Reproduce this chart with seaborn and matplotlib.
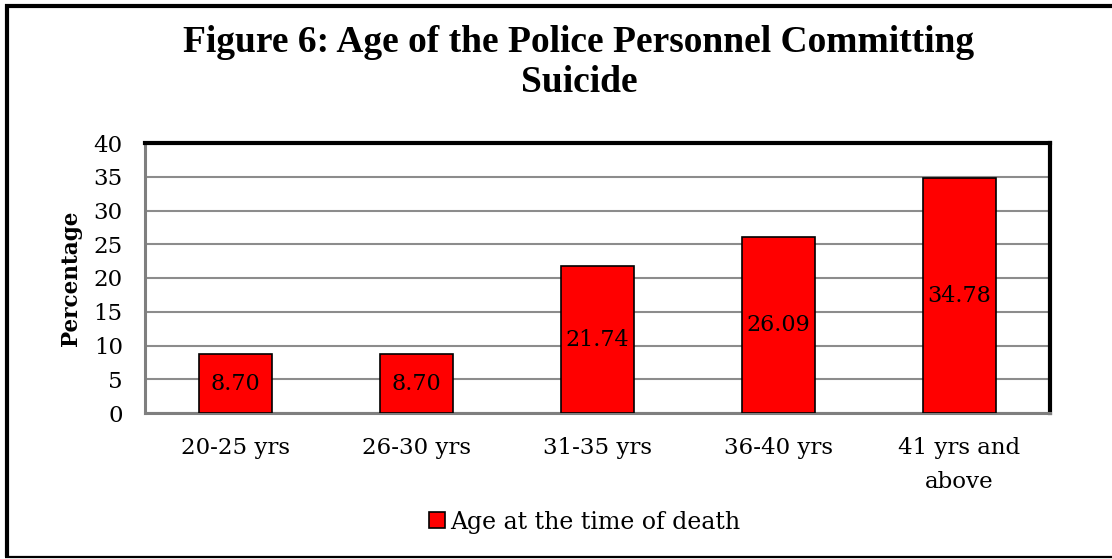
import matplotlib
matplotlib.use("Agg")
import matplotlib.pyplot as plt
from matplotlib.lines import Line2D
import seaborn as sns
import pandas as pd

categories = ["20-25 yrs", "26-30 yrs", "31-35 yrs", "36-40 yrs", "41 yrs and\nabove"]
percentages = [8.70, 8.70, 21.74, 26.09, 34.78]
series_name = "Age at the time of death"
y_ticks = [0, 5, 10, 15, 20, 25, 30, 35, 40]

df = pd.DataFrame({"Age group": categories, "Percentage": percentages, "Series": series_name})

sns.set_theme(style="white")
plt.rcParams["font.family"] = ["DejaVu Serif"]
plt.rcParams["text.color"] = "black"
plt.rcParams["xtick.color"] = "#8c8c8c"
plt.rcParams["ytick.color"] = "#8c8c8c"
plt.rcParams["xtick.labelcolor"] = "black"
plt.rcParams["ytick.labelcolor"] = "black"
plt.rcParams["axes.labelcolor"] = "black"

W, H = 1112, 559
fig = plt.figure(figsize=(W / 100, H / 100), dpi=100)
ax = fig.add_axes([145 / W, 1 - 413 / H, (1050 - 145) / W, (413 - 143) / H])

sns.barplot(data=df, x="Age group", y="Percentage", hue="Series", palette=["#ff0000"],
            saturation=1, width=0.4, edgecolor="black", linewidth=1.2, ax=ax, legend=True, zorder=3)

ax.set_ylim(0, 40)
ax.set_xlim(-0.5, len(categories) - 0.5)
ax.set_yticks(y_ticks)
ax.set_yticklabels([str(t) for t in y_ticks], fontsize=16.5)
ax.yaxis.grid(True, color="#8c8c8c", linewidth=1.5, zorder=0)
ax.set_axisbelow(True)

# category labels centred under bars, tick marks on category boundaries
ax.set_xticks(range(len(categories)))
ax.set_xticklabels(categories, fontsize=16.5, linespacing=1.7)
ax.tick_params(axis="x", which="major", length=0, pad=17)
ax.set_xticks([i - 0.5 for i in range(len(categories) + 1)], minor=True)
ax.tick_params(axis="x", which="minor", length=7, width=1.5, direction="out")
ax.tick_params(axis="y", length=7, width=1.5, direction="out", pad=9)

ax.set_xlabel("")
ax.set_ylabel("Percentage", fontsize=15.5, fontweight="bold", labelpad=8)

for side in ["top", "right"]:
    ax.spines[side].set_color("black")
    ax.spines[side].set_linewidth(3)
for side in ["left", "bottom"]:
    ax.spines[side].set_color("#7f7f7f")
    ax.spines[side].set_linewidth(2.2)

for container in ax.containers:
    ax.bar_label(container, labels=[f"{v:.2f}" for v in percentages], label_type="center",
                 fontsize=16, color="black")

leg = ax.legend(loc="center", bbox_to_anchor=(585 / W, 1 - 522 / H), bbox_transform=fig.transFigure,
                frameon=False, fontsize=17, handlelength=0.65, handleheight=0.65, handletextpad=0.25)
for h in leg.legend_handles:
    h.set_edgecolor("black")
    h.set_linewidth(1.2)

title_font = dict(family="Liberation Serif", fontsize=27, fontweight="bold", ha="center", va="center")
fig.text(579 / W, 1 - 42 / H, "Figure 6: Age of the Police Personnel Committing", **title_font)
fig.text(579 / W, 1 - 82 / H, "Suicide", **title_font)

# outer chart frame
frame = dict(transform=fig.transFigure, color="black", solid_capstyle="butt")
fig.add_artist(Line2D([6.5 / W, 6.5 / W], [1 - 4 / H, 1 - 557 / H], linewidth=3, **frame))
fig.add_artist(Line2D([5 / W, 1.0], [1 - 5.5 / H, 1 - 5.5 / H], linewidth=3, **frame))
fig.add_artist(Line2D([5 / W, 1.0], [1 - 557 / H, 1 - 557 / H], linewidth=1.6, **frame))

fig.savefig("out.png", dpi=100, facecolor="white")
